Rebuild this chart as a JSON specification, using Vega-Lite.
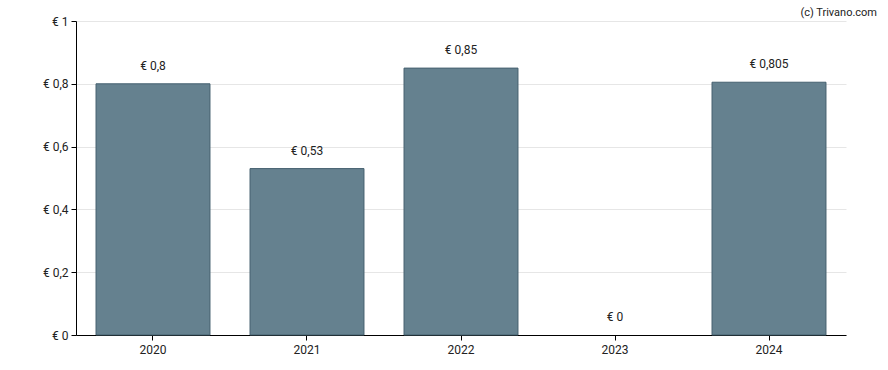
{
  "$schema": "https://vega.github.io/schema/vega-lite/v6.json",
  "width": 770,
  "height": 314,
  "autosize": {"type": "none"},
  "padding": {"left": 76, "top": 21, "right": 42, "bottom": 35},
  "background": "white",
  "title": {
    "text": "(c) Trivano.com",
    "anchor": "end",
    "dx": 31,
    "dy": 3,
    "offset": 0,
    "fontSize": 11,
    "font": "Roboto",
    "fontWeight": "normal",
    "color": "#222222"
  },
  "data": {
    "values": [
      {"year": "2020", "value": 0.8},
      {"year": "2021", "value": 0.53},
      {"year": "2022", "value": 0.85},
      {"year": "2023", "value": 0},
      {"year": "2024", "value": 0.805}
    ]
  },
  "transform": [
    {"calculate": "'€ ' + replace(format(datum.value, '~f'), '.', ',')", "as": "label"}
  ],
  "encoding": {
    "x": {
      "field": "year",
      "type": "ordinal",
      "scale": {"paddingInner": 0.26, "paddingOuter": 0.13},
      "axis": {
        "title": null,
        "labelAngle": 0,
        "domainColor": "#000000",
        "tickColor": "#000000",
        "tickSize": 5,
        "labelPadding": 4,
        "labelFontSize": 12,
        "labelFont": "Roboto",
        "labelColor": "#222222",
        "grid": false
      }
    },
    "y": {
      "field": "value",
      "type": "quantitative",
      "scale": {"domain": [0, 1], "nice": false},
      "axis": {
        "title": null,
        "values": [0, 0.2, 0.4, 0.6, 0.8, 1],
        "labelExpr": "'€ ' + replace(format(datum.value, '~f'), '.', ',')",
        "domainColor": "#000000",
        "tickColor": "#000000",
        "tickSize": 5,
        "labelPadding": 3,
        "labelFontSize": 12,
        "labelFont": "Roboto",
        "labelColor": "#222222",
        "gridColor": "#e6e6e6",
        "grid": true
      }
    }
  },
  "layer": [
    {
      "mark": {"type": "bar", "color": "#65818f", "stroke": "#45606f", "strokeWidth": 1},
      "encoding": {
        "strokeOpacity": {"condition": {"test": "datum.value > 0", "value": 1}, "value": 0}
      }
    },
    {
      "mark": {"type": "text", "baseline": "bottom", "dy": -11, "fontSize": 12, "font": "Roboto", "color": "#222222"},
      "encoding": {"text": {"field": "label"}}
    }
  ],
  "config": {"view": {"stroke": null}}
}
